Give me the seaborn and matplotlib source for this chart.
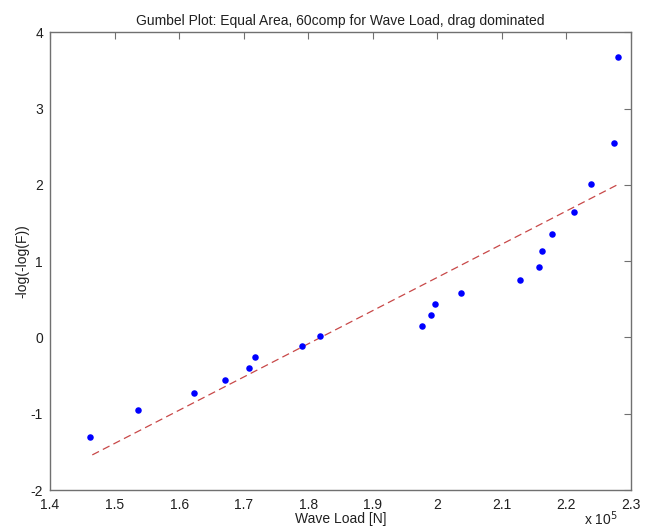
import matplotlib
matplotlib.use("Agg")
import matplotlib.pyplot as plt
import seaborn as sns
import numpy as np
import pandas as pd

# Data (wave load in N, reduced variate)
wave_load = [1.462e5, 1.536e5, 1.6226e5, 1.6716e5, 1.708e5, 1.718e5, 1.791e5, 1.818e5,
             1.976e5, 1.9897e5, 1.9964e5, 2.037e5, 2.128e5, 2.158e5, 2.162e5, 2.177e5,
             2.211e5, 2.238e5, 2.274e5, 2.280e5]
reduced_var = [-1.31, -0.955, -0.733, -0.562, -0.405, -0.257, -0.117, 0.022,
               0.149, 0.293, 0.437, 0.589, 0.755, 0.925, 1.134, 1.36,
               1.648, 2.006, 2.547, 3.676]
fit_x = [1.4655e5, 2.280e5]
fit_y = [-1.54, 2.006]

x_ticks = [1.4, 1.5, 1.6, 1.7, 1.8, 1.9, 2.0, 2.1, 2.2, 2.3]
x_tick_labels = ["1.4", "1.5", "1.6", "1.7", "1.8", "1.9", "2", "2.1", "2.2", "2.3"]
y_ticks = [-2, -1, 0, 1, 2, 3, 4]
y_tick_labels = ["-2", "-1", "0", "1", "2", "3", "4"]

sns.set_style("white")
plt.rcParams['font.family'] = ['Liberation Sans', 'DejaVu Sans']

W, H = 652, 529
fig = plt.figure(figsize=(W/100, H/100), dpi=100)
ax = fig.add_axes([50/W, 1 - 490/H, (631 - 50)/W, (490 - 32.3)/H])

pts = pd.DataFrame({"x": wave_load, "y": reduced_var})
fit = pd.DataFrame({"x": fit_x, "y": fit_y})

sns.lineplot(data=fit, x="x", y="y", ax=ax, color="#c84848", linewidth=0.9,
             dashes=False, linestyle=(0, (6, 3.5)), zorder=2)
sns.scatterplot(data=pts, x="x", y="y", ax=ax, color="#0000ff", s=22,
                edgecolor="#0000ff", linewidth=0, zorder=3)

ax.set_xlim(1.4e5, 2.3e5)
ax.set_ylim(-2, 4)
ax.set_xticks([t * 1e5 for t in x_ticks])
ax.set_xticklabels(x_tick_labels)
ax.set_yticks(y_ticks)
ax.set_yticklabels(y_tick_labels)

for s in ax.spines.values():
    s.set_visible(True)
    s.set_color("#707070")
    s.set_linewidth(1.0)

fs = 10
ax.tick_params(direction="in", length=5, width=0.8, color="#707070",
               top=True, right=True, labelsize=fs, pad=5, labelcolor="#202020")
ax.tick_params(axis="x", pad=6)

ax.set_xlabel("Wave Load [N]", fontsize=fs, color="#202020")
ax.set_ylabel("-log(-log(F))", fontsize=fs, color="#202020")
ax.xaxis.set_label_coords(0.5, -(519 - 490) / (490 - 32.3), transform=ax.transAxes)
ax.xaxis.label.set_va("center")
ax.yaxis.set_label_coords(-(50 - 22) / (631 - 50), 0.5, transform=ax.transAxes)
ax.yaxis.label.set_va("center")
ax.set_title("Gumbel Plot: Equal Area, 60comp for Wave Load, drag dominated",
             fontsize=fs, color="#202020", pad=5)

fig.text(601/W, 1 - 519/H, r"x 10$^{5}$", fontsize=fs, color="#202020",
         ha="center", va="center")

fig.savefig("out.png", dpi=100, facecolor="white")
